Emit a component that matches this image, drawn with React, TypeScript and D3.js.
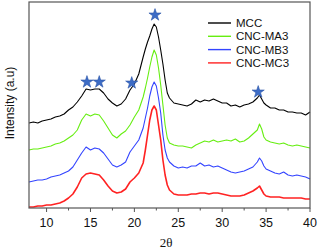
import React from 'react';
import * as d3 from 'd3';

// 2θ sampling (denser around the main cellulose peak)
const angles = [
  8, 8.5, 9, 9.5, 10, 10.5, 11, 11.5, 12, 12.5, 13, 13.5, 14, 14.5, 15, 15.5, 16, 16.5, 17, 17.5,
  18, 18.5, 19, 19.5, 20, 20.5, 21, 21.25, 21.5, 21.75, 22, 22.25, 22.5, 22.75, 23, 23.25, 23.5,
  23.75, 24, 24.5, 25, 25.5, 26, 26.5, 27, 27.5, 28, 28.5, 29, 29.5, 30, 30.5, 31, 31.5, 32, 32.5,
  33, 33.5, 34, 34.25, 34.5, 34.75, 35, 35.5, 36, 36.5, 37, 37.5, 38, 38.5, 39, 39.5, 40,
];

const mcc = [
  85, 86, 85, 87, 88, 89, 91, 92, 94, 98, 101, 106, 112, 119, 118, 119, 119, 115, 109, 105,
  102, 104, 109, 118, 124, 134, 151, 159, 166, 172, 179, 184, 181, 171, 158, 144, 128,
  115, 110, 105, 104, 103, 102, 104, 108, 106, 108, 107, 109, 107, 105, 105, 102, 103, 101, 103,
  104, 106, 110, 113, 109, 105, 103, 100, 100, 98, 98, 96, 96, 95, 95, 93, 96,
];
const ma3 = [
  58, 59, 59, 60, 61, 62, 64, 65, 67, 70, 73, 78, 88, 94, 92, 94, 93, 87, 80, 73,
  70, 74, 77, 83, 91, 98, 111, 120, 130, 141, 151, 158, 153, 140, 123, 103, 83,
  70, 65, 63, 62, 62, 61, 60, 63, 65, 67, 66, 68, 66, 67, 68, 67, 69, 66, 67,
  70, 74, 78, 84, 79, 71, 68, 66, 65, 64, 65, 63, 62, 63, 62, 61, 60,
];
const mb3 = [
  26, 27, 28, 28, 29, 31, 32, 33, 35, 37, 41, 48, 55, 61, 58, 60, 59, 55, 49, 43,
  41, 43, 46, 56, 62, 68, 80, 90, 100, 112, 121, 126, 122, 110, 95, 73, 58,
  50, 46, 42, 40, 41, 40, 42, 42, 45, 42, 43, 41, 42, 40, 38, 36, 35, 36, 37,
  39, 41, 46, 50, 47, 42, 39, 37, 35, 34, 36, 33, 32, 33, 32, 31, 29,
];
const mc3 = [
  1, 1, 2, 2, 3, 3, 4, 5, 7, 10, 14, 21, 30, 34, 35, 34, 33, 28, 22, 17,
  15, 16, 19, 26, 30, 35, 45, 58, 73, 88, 98, 102, 98, 83, 68, 48, 33,
  23, 18, 14, 13, 13, 13, 14, 14, 15, 15, 14, 15, 15, 14, 13, 12, 12, 12, 13,
  15, 17, 20, 22, 18, 14, 12, 11, 11, 11, 10, 10, 10, 10, 10, 9, 9,
];

const seriesNames = ['MCC', 'CNC-MA3', 'CNC-MB3', 'CNC-MC3'];
const seriesColors = ['#000000', '#66ee11', '#3344ff', '#ff2222'];
const seriesValues = [mcc, ma3, mb3, mc3];

// marked reflections (stars)
const starAngles = [14.6, 16.0, 19.7, 22.35, 34.1];
const starHeights = [126, 126, 125, 193, 116];

const xTicks = [10, 15, 20, 25, 30, 35, 40];
const xMinorTicks = [12.5, 17.5, 22.5, 27.5, 32.5, 37.5];

const App = () => {
  const W = 318;
  const H = 250;
  const m = { left: 29, right: 310, top: 2, bottom: 208 };

  const x = d3.scaleLinear().domain([8, 40]).range([m.left, m.right]);
  const y = d3.scaleLinear().domain([0, 206]).range([m.bottom, m.top]);

  const line = d3
    .line<number>()
    .x((_, i) => x(angles[i]))
    .y(d => y(d));

  const star = d3.symbol().type(d3.symbolStar).size(46)();

  const font = 'Arial, "Liberation Sans", sans-serif';

  return (
    <svg width={W} height={H} style={{ position: 'absolute', left: 0, top: 0 }}>
      <rect x={0} y={0} width={W} height={H} fill="#fff" />

      {/* curves, bottom one drawn first */}
      {seriesValues
        .map((vals, k) => (
          <path
            key={seriesNames[k]}
            d={line(vals) || ''}
            fill="none"
            stroke={seriesColors[k]}
            strokeWidth={k === 3 ? 1.6 : 1.1}
            strokeLinejoin="round"
          />
        ))
        .reverse()}

      {/* stars */}
      {starAngles.map((a, i) => (
        <path
          key={'s' + i}
          d={star || ''}
          transform={`translate(${x(a)},${y(starHeights[i])})`}
          fill="#3d6cc6"
          stroke="#2b55a8"
          strokeWidth={0.6}
        />
      ))}

      {/* frame */}
      <rect
        x={m.left}
        y={m.top}
        width={m.right - m.left}
        height={m.bottom - m.top}
        fill="none"
        stroke="#555"
        strokeWidth={1.2}
      />

      {/* x ticks */}
      {xTicks.map(t => (
        <g key={'t' + t}>
          <line x1={x(t)} x2={x(t)} y1={m.bottom} y2={m.bottom + 4} stroke="#555" />
          <text
            x={x(t)}
            y={m.bottom + 19}
            textAnchor="middle"
            fontFamily={font}
            fontSize={12.5}
            fill="#111"
          >
            {t}
          </text>
        </g>
      ))}
      {xMinorTicks.map(t => (
        <line key={'mt' + t} x1={x(t)} x2={x(t)} y1={m.bottom} y2={m.bottom + 2.5} stroke="#555" />
      ))}

      {/* axis titles */}
      <text
        x={166}
        y={247}
        textAnchor="middle"
        fontFamily='"Liberation Serif", "Times New Roman", serif'
        fontSize={13}
        fill="#111"
      >
        2θ
      </text>
      <text
        transform="translate(14,103) rotate(-90)"
        textAnchor="middle"
        fontFamily={font}
        fontSize={12}
        fill="#111"
      >
        Intensity (a.u)
      </text>

      {/* legend */}
      {seriesNames.map((name, i) => (
        <g key={'l' + name} transform={`translate(208,${23 + i * 13.3})`}>
          <line x1={0} x2={23} y1={0} y2={0} stroke={seriesColors[i]} strokeWidth={1.4} />
          <text x={28} y={4} fontFamily={font} fontSize={11.5} fill="#111">
            {name}
          </text>
        </g>
      ))}
    </svg>
  );
};

export default App;
